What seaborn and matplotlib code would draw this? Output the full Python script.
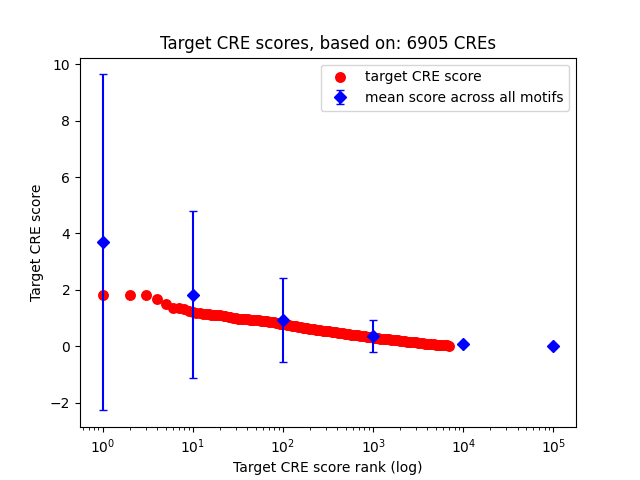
import numpy as np
import pandas as pd
import seaborn as sns
from matplotlib import pyplot as plt

# target CRE scores (rank -> score)
cre_rank = [1, 2, 3, 4, 5, 6, 7, 8, 9, 10,
            11, 12, 13, 14, 15, 16, 17, 18, 19, 20,
            22, 23, 25, 26, 28, 30, 32, 34, 36, 38,
            41, 43, 46, 48, 51, 54, 57, 60, 64, 67,
            71, 75, 80, 84, 89, 94, 100, 105, 112, 118,
            125, 132, 140, 148, 157, 166, 176, 186, 197, 208,
            220, 233, 247, 261, 276, 292, 309, 327, 346, 366,
            388, 410, 434, 459, 486, 514, 544, 576, 610, 645,
            683, 722, 765, 809, 856, 906, 960, 1015, 1075, 1137,
            1204, 1273, 1348, 1426, 1510, 1597, 1691, 1789, 1894, 2004,
            2121, 2244, 2375, 2513, 2660, 2815, 2979, 3153, 3337, 3531,
            3737, 3955, 4186, 4430, 4688, 4962, 5251, 5557, 5881, 6224,
            6560, 6905]
cre_score = [1.82, 1.82, 1.82, 1.68, 1.50, 1.37, 1.34, 1.30, 1.26, 1.22,
             1.19, 1.17, 1.15, 1.13, 1.13, 1.12, 1.12, 1.11, 1.11, 1.10,
             1.08, 1.06, 1.04, 1.02, 1.00, 0.99, 0.98, 0.97, 0.96, 0.96,
             0.95, 0.94, 0.93, 0.93, 0.92, 0.91, 0.90, 0.90, 0.89, 0.88,
             0.87, 0.86, 0.85, 0.83, 0.82, 0.80, 0.79, 0.77, 0.76, 0.74,
             0.72, 0.71, 0.70, 0.68, 0.67, 0.66, 0.64, 0.63, 0.62, 0.61,
             0.60, 0.59, 0.58, 0.57, 0.55, 0.54, 0.53, 0.52, 0.51, 0.50,
             0.49, 0.48, 0.46, 0.45, 0.44, 0.43, 0.42, 0.41, 0.40, 0.39,
             0.38, 0.37, 0.36, 0.35, 0.33, 0.32, 0.31, 0.30, 0.29, 0.28,
             0.27, 0.26, 0.255, 0.25, 0.24, 0.23, 0.22, 0.21, 0.20, 0.19,
             0.18, 0.17, 0.16, 0.15, 0.145, 0.14, 0.13, 0.12, 0.11, 0.10,
             0.09, 0.08, 0.075, 0.07, 0.06, 0.05, 0.045, 0.04, 0.035, 0.03,
             0.025, 0.02]

# mean score across all motifs, per rank bucket
motif_rank = [1, 10, 100, 1000, 10000, 100000]
motif_mean = [3.68, 1.83, 0.93, 0.355, 0.09, 0.0]
motif_sd = [5.96, 2.95, 1.50, 0.575, 0.0, 0.0]

n_cres = 6905

df = pd.DataFrame({'rank': cre_rank, 'score': cre_score})

fig, ax = plt.subplots(figsize=(6.4, 4.8), dpi=100)
ax.set_xscale('log')
sns.scatterplot(data=df, x='rank', y='score', color='red', s=62,
                linewidth=0, label='target CRE score', ax=ax)
ax.errorbar(motif_rank, motif_mean, yerr=motif_sd, fmt='bD', capsize=3,
            label='mean score across all motifs')

ax.set_title(f'Target CRE scores, based on: {n_cres} CREs')
ax.set_xlabel('Target CRE score rank (log)')
ax.set_ylabel('Target CRE score')
ax.legend(loc='upper right')

plt.savefig('out.png')
